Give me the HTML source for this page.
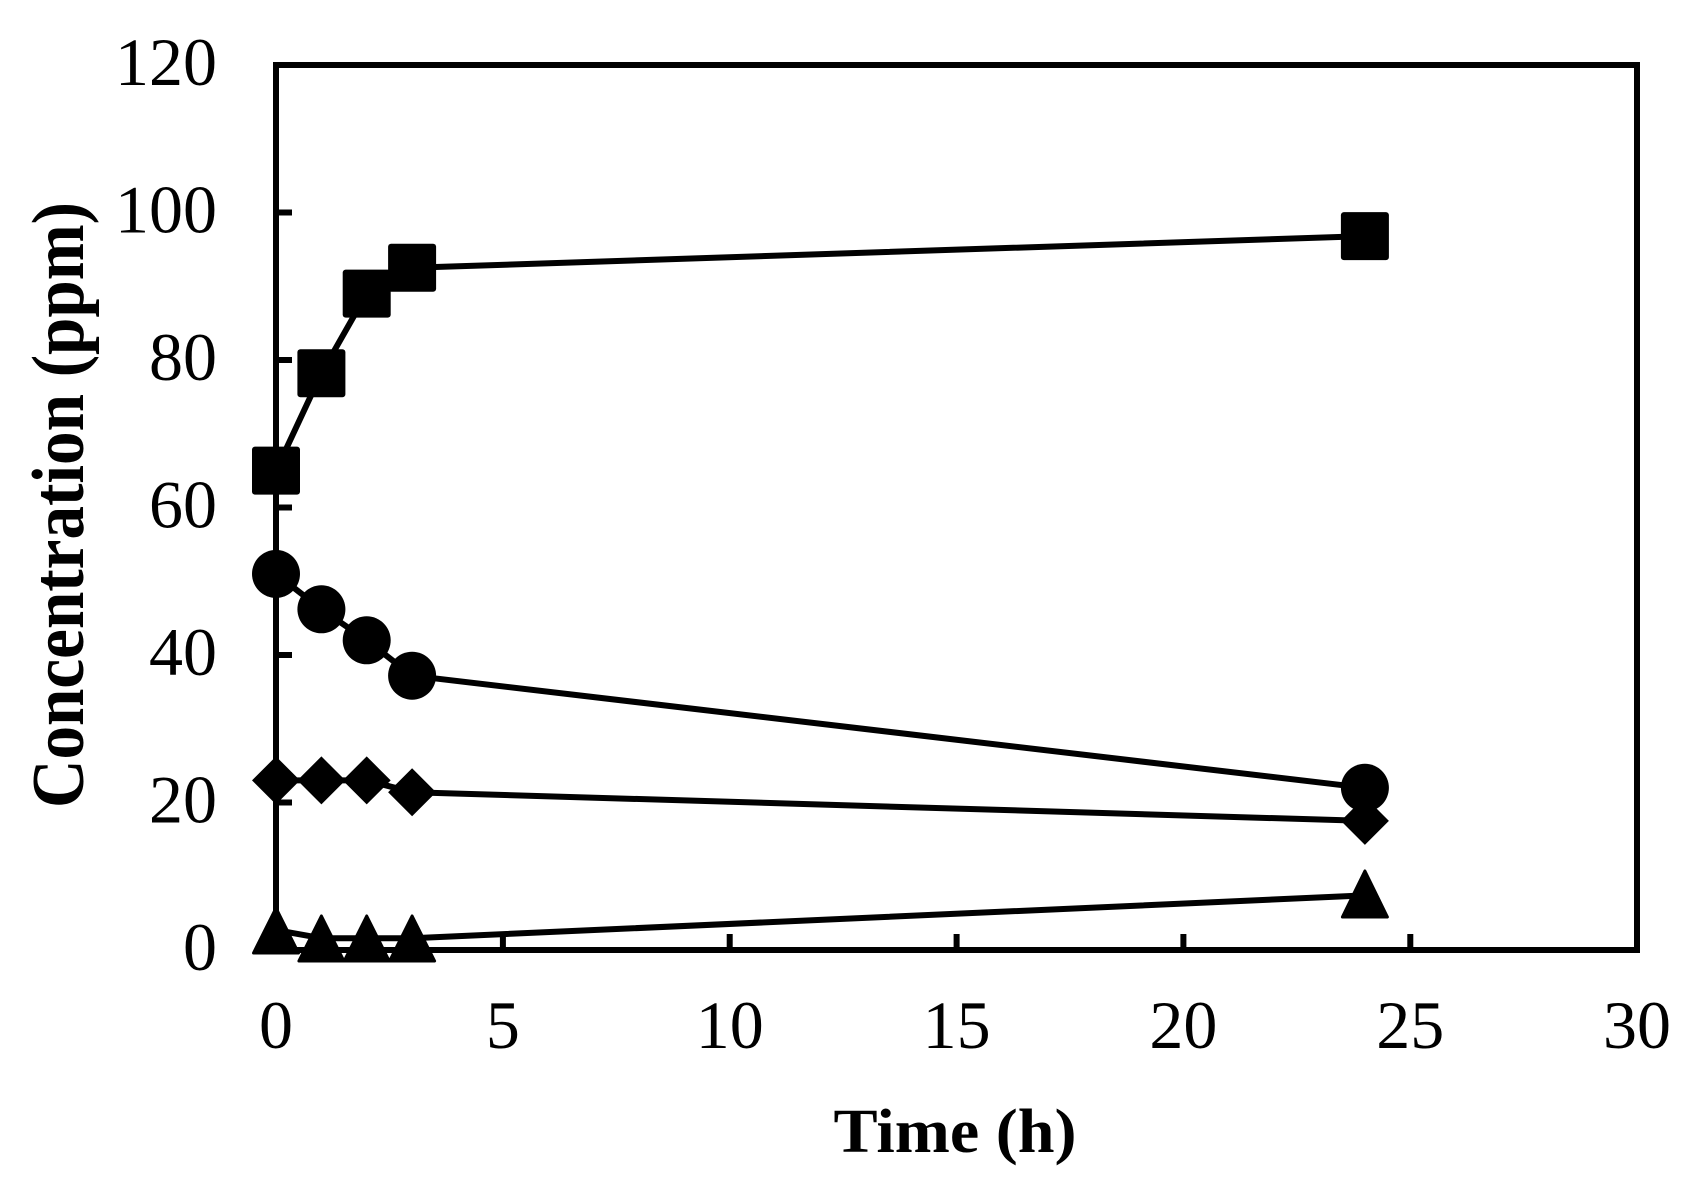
<!DOCTYPE html>
<html><head><meta charset="utf-8"><style>html,body{margin:0;padding:0;background:#fff}</style></head>
<body>
<svg width="1703" height="1185" xmlns="http://www.w3.org/2000/svg" style="display:block">
<rect width="1703" height="1185" fill="#fff"/>
<g stroke="#000" stroke-width="6" fill="none">
<rect x="276" y="65" width="1361" height="885"/>
<path d="M276 802.5h16M276 655h16M276 507.5h16M276 360h16M276 212.5h16M502.9 950v-16M729.7 950v-16M956.6 950v-16M1183.4 950v-16M1410.3 950v-16"/>
</g>
<g font-family="Liberation Serif, serif" font-size="68" fill="#000" text-anchor="end">
<text x="217" y="970">0</text>
<text x="217" y="822.5">20</text>
<text x="217" y="675">40</text>
<text x="217" y="527.5">60</text>
<text x="217" y="380">80</text>
<text x="217" y="232.5">100</text>
<text x="217" y="85">120</text>
</g>
<g font-family="Liberation Serif, serif" font-size="68" fill="#000" text-anchor="middle">
<text x="276" y="1048">0</text>
<text x="502.9" y="1048">5</text>
<text x="729.7" y="1048">10</text>
<text x="956.6" y="1048">15</text>
<text x="1183.4" y="1048">20</text>
<text x="1410.3" y="1048">25</text>
<text x="1637" y="1048">30</text>
</g>
<text x="955" y="1152" font-family="Liberation Serif, serif" font-weight="bold" font-size="62" text-anchor="middle" textLength="243" lengthAdjust="spacingAndGlyphs">Time (h)</text>
<text transform="translate(83,505) rotate(-90)" font-family="Liberation Serif, serif" font-weight="bold" font-size="74" text-anchor="middle" textLength="606" lengthAdjust="spacingAndGlyphs">Concentration (ppm)</text>
<g stroke="#000" stroke-width="6" fill="none" stroke-linejoin="round">
<polyline points="276,470.6 321.4,373.3 366.7,293.6 412.1,267.8 1364.9,236.1"/>
<polyline points="276,573.9 321.4,609.3 366.7,640.3 412.1,675.7 1364.9,787.8"/>
<polyline points="276,780.4 321.4,780.4 366.7,780.4 412.1,792.2 1364.9,820.9"/>
<polyline points="276,930.1 321.4,938.2 366.7,938.2 412.1,938.2 1364.9,895.4"/>
</g>
<g fill="#000">
<rect x="252" y="446.6" width="48" height="48" rx="3"/>
<rect x="297.4" y="349.3" width="48" height="48" rx="3"/>
<rect x="342.7" y="269.6" width="48" height="48" rx="3"/>
<rect x="388.1" y="243.8" width="48" height="48" rx="3"/>
<rect x="1340.9" y="212.1" width="48" height="48" rx="3"/>
<circle cx="276" cy="573.9" r="24"/>
<circle cx="321.4" cy="609.3" r="24"/>
<circle cx="366.7" cy="640.3" r="24"/>
<circle cx="412.1" cy="675.7" r="24"/>
<circle cx="1364.9" cy="787.8" r="24"/>
<path d="M276 756.4l24 24l-24 24l-24-24zM321.4 756.4l24 24l-24 24l-24-24zM366.7 756.4l24 24l-24 24l-24-24zM412.1 768.2l24 24l-24 24l-24-24zM1364.9 796.9l24 24l-24 24l-24-24z"/>
<g stroke="#000" stroke-width="3" stroke-linejoin="round">
<path d="M276 908l22.5 45h-45zM321.4 916l22.5 45h-45zM366.7 916l22.5 45h-45zM412.1 916l22.5 45h-45zM1364.9 871l22.5 46h-45z"/>
</g>
</g>
</svg>
</body></html>
